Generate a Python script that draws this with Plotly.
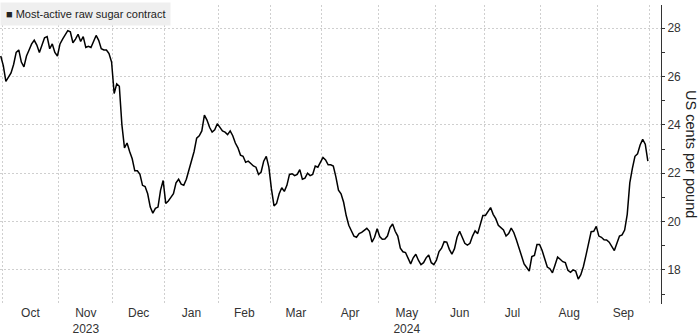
import pandas as pd
import plotly.graph_objects as go

# ---- data ----
start_date = "2023-09-29"
end_date = "2024-09-30"
holidays = ["2023-11-23", "2023-12-25", "2024-01-01", "2024-01-15", "2024-02-19",
            "2024-03-29", "2024-05-27", "2024-06-19", "2024-07-04", "2024-09-02"]

price_sep23 = [26.85]
price_oct23 = [26.45, 25.8, 25.95, 26.15, 26.5, 27.0, 27.1, 26.6, 26.4, 26.85, 27.1,
               27.35, 27.5, 27.3, 27.0, 27.35, 27.6, 27.65, 27.15, 27.35, 27.0, 26.85]
price_nov23 = [27.35, 27.55, 27.75, 27.9, 27.85, 27.4, 27.55, 27.75, 27.45, 27.65, 27.2,
               27.25, 27.2, 27.45, 27.7, 27.5, 27.15, 27.1, 27.1, 26.95, 26.6]
price_dec23 = [25.3, 25.7, 25.6, 24.0, 23.05, 23.25, 22.9, 22.6, 22.1, 22.1,
               21.95, 21.5, 21.45, 21.15, 20.6, 20.35, 20.55, 20.6, 21.3, 21.7]
price_jan24 = [20.75, 20.85, 21.0, 21.15, 21.6, 21.75, 21.55, 21.5, 21.75, 22.1, 22.45,
               22.9, 23.45, 23.55, 23.75, 24.4, 24.2, 23.9, 23.7, 23.8, 24.05]
price_feb24 = [23.9, 23.75, 23.7, 23.6, 23.75, 23.55, 23.25, 23.05, 22.75, 22.7,
               22.45, 22.5, 22.4, 22.3, 22.25, 21.95, 22.05, 22.5, 22.7, 22.25]
price_mar24 = [21.35, 20.65, 20.75, 21.15, 21.4, 21.25, 21.5, 21.95, 21.98, 21.9,
               21.95, 22.15, 21.75, 21.8, 22.0, 21.9, 21.95, 22.3, 22.25, 22.45]
price_apr24 = [22.65, 22.55, 22.35, 22.35, 22.3, 21.85, 21.3, 21.15, 20.8, 20.25, 19.85,
               19.62, 19.4, 19.35, 19.5, 19.55, 19.63, 19.72, 19.6, 19.15, 19.35, 19.7]
price_may24 = [19.38, 19.27, 19.28, 19.4, 19.75, 19.9, 19.6, 19.4, 18.9, 18.75, 18.72,
               18.45, 18.25, 18.5, 18.65, 18.4, 18.22, 18.3, 18.5, 18.62, 18.3, 18.22]
price_jun24 = [18.4, 18.76, 18.9, 19.17, 19.15, 18.85, 18.65, 18.88, 19.35, 19.6,
               19.35, 19.1, 19.03, 19.1, 19.4, 19.62, 19.5, 19.9, 20.25]
price_jul24 = [20.25, 20.4, 20.58, 20.3, 20.12, 19.85, 19.75, 19.65, 19.4, 19.5, 19.73,
               19.55, 19.25, 18.9, 18.6, 18.25, 18.1, 17.95, 18.55, 18.6, 19.05, 19.05]
price_aug24 = [18.8, 18.45, 18.12, 18.05, 17.88, 18.2, 18.53, 18.44, 18.34, 18.3, 17.98,
               17.9, 18.0, 17.95, 17.62, 17.8, 18.14, 18.6, 19.15, 19.58, 19.6, 19.8]
price_sep24 = [19.4, 19.35, 19.25, 19.24, 19.15, 18.95, 18.8, 19.1, 19.4, 19.45,
               19.65, 20.3, 21.6, 22.2, 22.7, 22.8, 23.17, 23.4, 23.2, 22.5]

month_labels = ["Oct", "Nov", "Dec", "Jan", "Feb", "Mar", "Apr", "May", "Jun", "Jul", "Aug", "Sep"]
label_months = ["2023-10", "2023-11", "2023-12", "2024-01", "2024-02", "2024-03",
                "2024-04", "2024-05", "2024-06", "2024-07", "2024-08", "2024-09"]
year_labels = {"2023-11": "2023", "2024-05": "2024"}
y_major = [18, 20, 22, 24, 26, 28]
y_minor = [17, 19, 21, 23, 25, 27]

series_name = "Most-active raw sugar contract"
y_title = "US cents per pound"

# ---- build ----
prices = (price_sep23 + price_oct23 + price_nov23 + price_dec23 + price_jan24 + price_feb24 +
          price_mar24 + price_apr24 + price_may24 + price_jun24 + price_jul24 + price_aug24 +
          price_sep24)

dates = [d for d in pd.bdate_range(start_date, end_date) if d.strftime("%Y-%m-%d") not in holidays]
n = min(len(dates), len(prices))
dates = dates[:n]
prices = prices[:n]
xs = list(range(n))

month_key = [d.strftime("%Y-%m") for d in dates]
boundaries = [i - 0.5 for i in range(n) if i == 0 or month_key[i] != month_key[i - 1]]
boundaries.append(n - 0.5)

tickvals, ticktext = [], []
for mk, lab in zip(label_months, month_labels):
    idx = [i for i in range(n) if month_key[i] == mk]
    if not idx:
        continue
    tickvals.append((idx[0] + idx[-1]) / 2)
    ticktext.append(lab + ("<br>" + year_labels[mk] if mk in year_labels else ""))

hover = [d.strftime("%Y-%m-%d") for d in dates]

fig = go.Figure()
fig.add_trace(go.Scatter(x=xs, y=prices, mode="lines", name=series_name,
                         line=dict(color="#000000", width=1.5),
                         text=hover, hovertemplate="%{text}: %{y:.2f}<extra></extra>"))

FONT = "Liberation Sans, Arial, sans-serif"
GRID = "#cfcfcf"

fig.update_layout(
    width=700, height=336,
    margin=dict(l=0, r=39, t=5, b=32),
    paper_bgcolor="white", plot_bgcolor="white",
    showlegend=False,
    font=dict(family=FONT, size=12, color="#333333"),
    xaxis=dict(
        range=[-0.28, 256.1],
        tickmode="array", tickvals=tickvals, ticktext=ticktext,
        ticks="", showgrid=False, zeroline=False, showline=False,
        tickfont=dict(family=FONT, size=12, color="#333333"),
        minor=dict(tickmode="array", tickvals=boundaries, ticks="", showgrid=True,
                   gridcolor=GRID, gridwidth=1, griddash="2px,2px"),
    ),
    yaxis=dict(
        side="right", range=[16.59, 28.96],
        tickmode="array", tickvals=y_major,
        ticks="outside", ticklen=3, tickwidth=1, tickcolor="#333333",
        showline=True, linecolor="#333333", linewidth=1,
        showgrid=True, gridcolor=GRID, gridwidth=1, griddash="2px,2px",
        zeroline=False,
        tickfont=dict(family=FONT, size=12, color="#333333"),
        minor=dict(tickmode="array", tickvals=y_minor, ticks="outside", ticklen=3,
                   tickwidth=1, tickcolor="#333333", showgrid=False),
    ),
)

fig.add_annotation(text=y_title, textangle=90, xref="paper", yref="paper",
                   x=1.046, y=0.5, xanchor="center", yanchor="middle", showarrow=False,
                   borderpad=0,
                   font=dict(family=FONT, size=14.5, color="#222222"))

fig.add_annotation(text="\u25A0 " + series_name, xref="paper", yref="paper",
                   x=0, y=1.01, xanchor="left", yanchor="top", showarrow=False,
                   align="left", bgcolor="#efefef", borderpad=5,
                   font=dict(family=FONT, size=11, color="#222222"))

fig.write_html("out.html")
